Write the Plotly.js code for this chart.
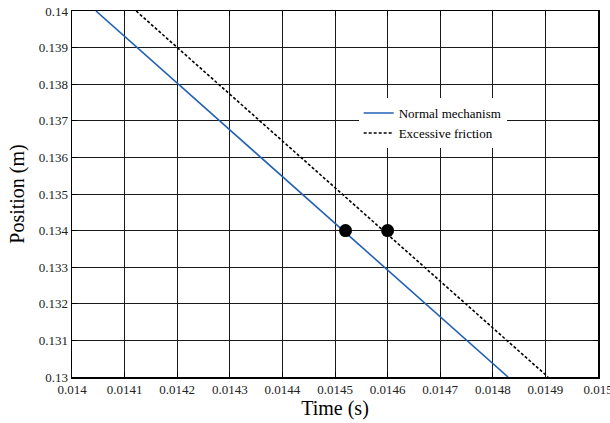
<!DOCTYPE html>
<html>
<head>
<meta charset="utf-8">
<script src="https://cdn.plot.ly/plotly-3.0.1.min.js"></script>
<style>
  html, body { margin: 0; padding: 0; background: #fff; }
  #chart { width: 610px; height: 423px; }
</style>
</head>
<body>
<div id="chart"></div>
<script>
// Position vs. time for the two mechanism cases
const normalTime = [0.0140456, 0.014829];
const normalPos = [0.14, 0.13];
const frictionTime = [0.014122, 0.014905];
const frictionPos = [0.14, 0.13];

// Highlighted crossing points at 0.134 m
const markTime = [0.01452, 0.0146];
const markPos = [0.134, 0.134];

const seriesNames = ['Normal mechanism', 'Excessive friction'];

const xTickVals = [0.014, 0.0141, 0.0142, 0.0143, 0.0144, 0.0145, 0.0146, 0.0147, 0.0148, 0.0149, 0.015];
const xTickText = ['0.014', '0.0141', '0.0142', '0.0143', '0.0144', '0.0145', '0.0146', '0.0147', '0.0148', '0.0149', '0.015'];
const yTickVals = [0.13, 0.131, 0.132, 0.133, 0.134, 0.135, 0.136, 0.137, 0.138, 0.139, 0.14];
const yTickText = ['0.13', '0.131', '0.132', '0.133', '0.134', '0.135', '0.136', '0.137', '0.138', '0.139', '0.14'];

const serif = 'Liberation Serif';

const traces = [
  {
    x: normalTime, y: normalPos, mode: 'lines', name: seriesNames[0],
    line: { color: '#2160b3', width: 1.6 }
  },
  {
    x: frictionTime, y: frictionPos, mode: 'lines', name: seriesNames[1],
    line: { color: '#000000', width: 1.6, dash: '3px,2px' }
  },
  {
    x: markTime, y: markPos, mode: 'markers', showlegend: false,
    marker: { color: '#000000', size: 13 }
  }
];

const axisCommon = {
  showline: true, linecolor: '#000', linewidth: 1.5, mirror: 'ticks',
  ticks: 'inside', ticklen: 5, tickcolor: '#000', tickwidth: 1,
  showgrid: true, gridcolor: '#1a1a1a', gridwidth: 1,
  zeroline: false, tickmode: 'array',
  ticklabeloverflow: 'allow',
  tickfont: { family: serif, size: 13, color: '#222' }
};

const layout = {
  width: 610, height: 423,
  font: { family: serif },
  margin: { l: 72, r: 12, t: 11, b: 46 },
  paper_bgcolor: '#fff', plot_bgcolor: '#fff',
  showlegend: true,
  legend: {
    x: 0.545, y: 0.762, xanchor: 'left', yanchor: 'top',
    bgcolor: '#fff', borderwidth: 0,
    font: { family: serif, size: 13, color: '#000' },
    itemwidth: 30, tracegroupgap: 0
  },
  xaxis: Object.assign({}, axisCommon, {
    range: [0.014, 0.015],
    tickvals: xTickVals, ticktext: xTickText,
    title: { text: 'Time (s)', font: { family: serif, size: 20, color: '#000' }, standoff: 2 }
  }),
  yaxis: Object.assign({}, axisCommon, {
    range: [0.13, 0.14],
    tickvals: yTickVals, ticktext: yTickText,
    title: { text: 'Position (m)', font: { family: serif, size: 20, color: '#000' }, standoff: 8 }
  })
};

Plotly.newPlot('chart', traces, layout, { displayModeBar: false, staticPlot: true });
</script>
</body>
</html>
